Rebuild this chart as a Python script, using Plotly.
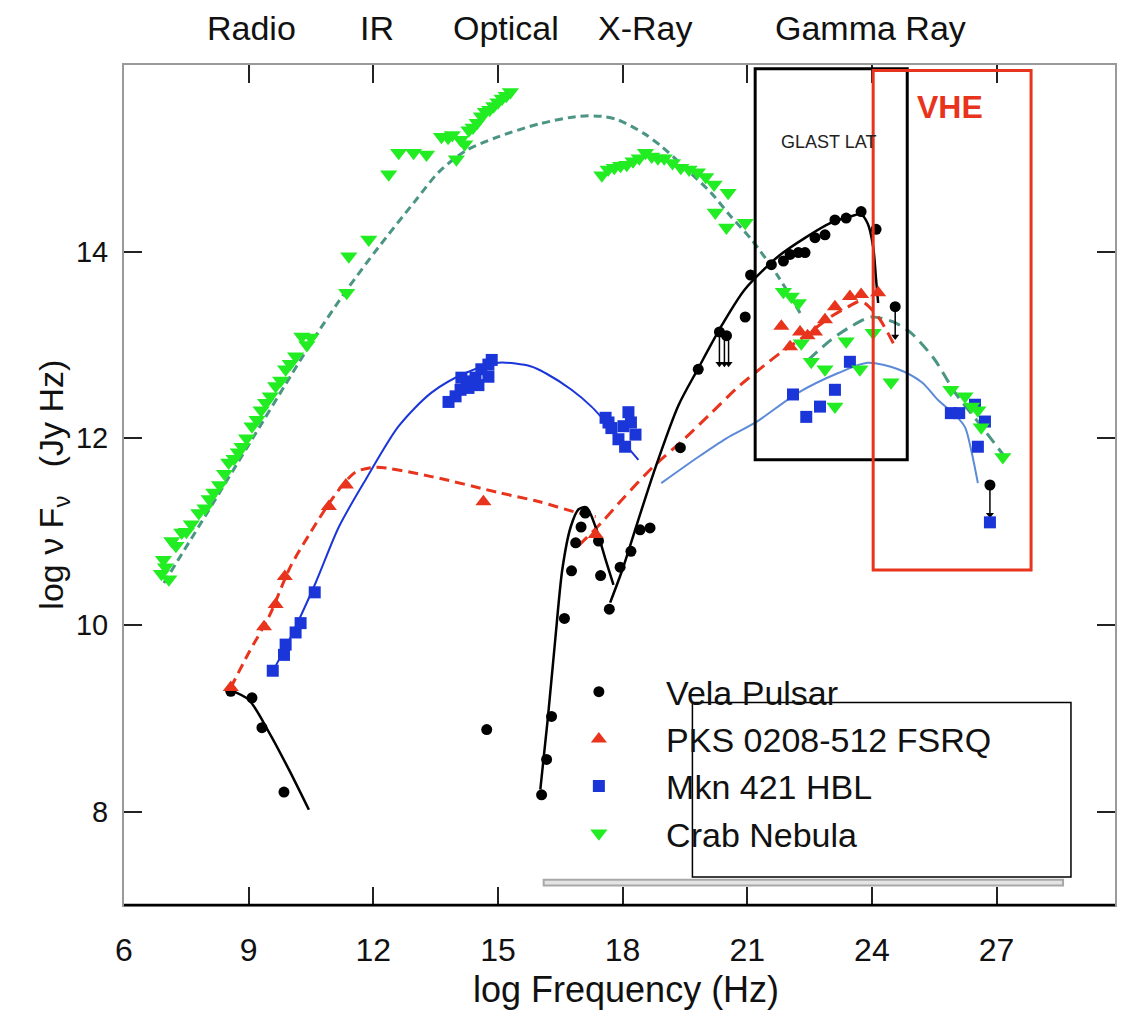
import plotly.graph_objects as go

# ---------------- data ----------------
# Crab Nebula (green, down triangles)
crab_x = [6.9, 6.95, 7.0, 7.08, 7.15, 7.25, 7.39, 7.5, 7.62, 7.8, 7.95, 8.05, 8.16, 8.3, 8.42, 8.52,
          8.65, 8.75, 8.84, 8.95, 9.08, 9.2, 9.3, 9.41, 9.52, 9.65, 9.77, 9.89, 10.0, 10.13, 10.28, 10.4, 10.5,
          11.36, 11.41, 11.89, 12.37, 12.61, 12.97, 13.28,
          13.64, 13.8, 13.9, 14.0, 14.1, 14.2, 14.3, 14.4, 14.5, 14.6, 14.7, 14.8, 14.9, 15.0, 15.1, 15.2, 15.3,
          17.5, 17.65, 17.8, 17.95, 18.1, 18.25, 18.4, 18.55, 18.7, 18.85, 19.0, 19.2, 19.4, 19.6, 19.8, 20.0, 20.2,
          20.54, 20.23, 20.5, 20.95,
          21.87, 22.06, 22.23, 22.3, 23.38, 22.54, 22.87, 23.71, 23.11, 24.03, 24.46,
          25.9, 26.24, 26.4, 26.55, 26.63, 27.15]
crab_y = [10.55, 10.7, 10.62, 10.49, 10.9, 10.85, 10.99, 11.0, 11.08, 11.2, 11.25, 11.35, 11.42, 11.5, 11.62, 11.74,
          11.78, 11.85, 11.91, 12.0, 12.13, 12.2, 12.3, 12.38, 12.45, 12.56, 12.62, 12.74, 12.8, 12.88, 13.09, 13.0, 13.08,
          13.56, 13.95, 14.13, 14.83, 15.06, 15.06, 15.04,
          15.23, 15.22, 15.25, 14.99, 15.2, 15.15, 15.3, 15.33, 15.38, 15.45, 15.5, 15.52, 15.56, 15.6, 15.64, 15.67, 15.71,
          14.82, 14.88, 14.9, 14.92, 14.93, 14.97, 15.0, 15.06, 15.02, 15.0, 15.0, 14.95, 14.9, 14.88, 14.85, 14.8, 14.72,
          14.63, 14.42, 14.26, 14.31,
          13.57, 13.52, 13.45, 13.02, 13.04, 12.82, 12.74, 12.74, 12.34, 13.13, 12.6,
          12.52, 12.45, 12.34, 12.3, 12.12, 11.8]
crab_sync_x = [6.96, 8.0, 9.0, 10.0, 10.6, 11.36, 12.13, 13.02, 13.57, 14.22, 15.0, 16.0, 16.94, 17.5, 17.9,
               18.5, 18.93, 19.5, 20.13, 20.6, 21.1, 21.75, 22.3]
crab_sync_y = [10.45, 11.2, 11.93, 12.66, 13.09, 13.59, 14.05, 14.55, 14.85, 15.08, 15.23, 15.37, 15.45, 15.45, 15.41,
               15.27, 15.13, 14.9, 14.63, 14.38, 14.13, 13.73, 13.32]
crab_ic_x = [22.47, 23.0, 23.5, 23.98, 24.5, 24.94, 25.5, 26.0, 26.6, 27.2]
crab_ic_y = [12.84, 13.05, 13.2, 13.3, 13.25, 13.13, 12.85, 12.49, 12.15, 11.8]

# Vela Pulsar (black circles)
vela_x = [8.57, 9.08, 9.32, 9.85, 14.73, 16.05, 16.17, 16.29, 16.6, 16.77, 16.87, 17.0, 17.1, 17.42, 17.47,
          17.68, 17.94, 18.2, 18.42, 18.66, 19.39, 19.82, 20.33, 20.5, 20.95, 21.08, 21.58, 21.87, 22.03, 22.23,
          22.39, 22.63, 22.87, 23.11, 23.38, 23.74, 24.1, 24.56, 26.84]
vela_y = [9.29, 9.22, 8.9, 8.21, 8.88, 8.18, 8.56, 9.02, 10.07, 10.58, 10.88, 11.05, 11.2, 10.9, 10.53,
          10.17, 10.62, 10.79, 11.02, 11.04, 11.9, 12.74, 13.14, 13.1, 13.3, 13.75, 13.86, 13.9, 13.97, 13.99,
          13.99, 14.15, 14.18, 14.34, 14.36, 14.43, 14.24, 13.41, 11.5]
vela_radio_x = [8.57, 9.0, 9.49, 9.97, 10.45]
vela_radio_y = [9.3, 9.2, 8.85, 8.45, 8.02]
vela_opt_x = [16.02, 16.2, 16.38, 16.55, 16.75, 16.94, 17.13, 17.35, 17.59, 17.78]
vela_opt_y = [8.24, 9.0, 9.85, 10.6, 11.05, 11.24, 11.26, 11.05, 10.7, 10.43]
vela_he_x = [17.7, 18.0, 18.38, 18.8, 19.34, 19.82, 20.4, 20.95, 21.75, 22.4, 23.02, 23.5, 23.74, 23.9,
             24.03, 24.1, 24.15]
vela_he_y = [10.24, 10.6, 11.13, 11.7, 12.35, 12.75, 13.22, 13.6, 13.95, 14.15, 14.31, 14.38, 14.4, 14.3,
             14.05, 13.7, 13.45]
# upper limits (arrow tops) and arrow length
vela_ul_x = [20.33, 20.45, 20.55, 24.56, 26.84]
vela_ul_y = [13.12, 13.12, 13.12, 13.41, 11.5]
ul_len = 0.32

# PKS 0208-512 FSRQ (red up triangles)
pks_x = [8.57, 9.37, 9.65, 9.87, 10.93, 11.34, 14.65, 17.35, 21.82, 22.03, 22.27, 22.45, 22.63, 22.87,
         23.11, 23.47, 23.74, 24.15]
pks_y = [9.33, 9.98, 10.22, 10.52, 11.27, 11.5, 11.32, 10.97, 13.2, 12.98, 13.14, 13.1, 13.14, 13.27,
         13.41, 13.52, 13.54, 13.56]
pks_sync_x = [8.57, 9.0, 9.5, 10.0, 10.5, 10.93, 11.3, 11.58, 12.06, 13.4, 15.01, 16.0, 16.94, 17.35]
pks_sync_y = [9.33, 9.7, 10.1, 10.62, 11.0, 11.3, 11.52, 11.64, 11.69, 11.59, 11.42, 11.32, 11.2, 11.16]
pks_ic_x = [16.94, 17.5, 18.0, 18.7, 19.5, 20.13, 20.78, 21.75, 22.4, 23.0, 23.43, 23.74, 24.15, 24.56]
pks_ic_y = [10.85, 11.1, 11.35, 11.68, 12.0, 12.27, 12.55, 12.9, 13.1, 13.3, 13.41, 13.47, 13.3, 12.98]

# Mkn 421 HBL (blue squares)
mkn_x = [9.58, 9.85, 9.89, 10.13, 10.25, 10.59,
         13.81, 13.98, 14.1, 14.25, 14.46, 14.6, 14.77, 14.85, 14.53, 14.77, 14.12, 14.29,
         17.59, 17.73, 17.9, 18.02, 18.14, 18.31, 17.66, 18.2, 18.06,
         22.1, 22.42, 22.75, 23.11, 23.47, 25.9, 26.1, 26.48, 26.72, 26.55, 26.84]
mkn_y = [9.51, 9.68, 9.79, 9.92, 10.02, 10.35,
         12.39, 12.45, 12.52, 12.61, 12.65, 12.74, 12.79, 12.84, 12.57, 12.66, 12.65, 12.54,
         12.22, 12.11, 11.99, 12.13, 12.28, 12.04, 12.17, 12.17, 11.91,
         12.47, 12.23, 12.34, 12.52, 12.82, 12.27, 12.27, 12.36, 12.18, 11.91, 11.1]
mkn_sync_x = [9.55, 10.0, 10.61, 11.17, 11.82, 12.61, 13.4, 14.22, 15.01, 15.8, 16.14, 16.77, 17.25, 17.8, 18.38]
mkn_sync_y = [9.48, 9.86, 10.45, 11.05, 11.56, 12.13, 12.49, 12.7, 12.81, 12.77, 12.7, 12.52, 12.34, 12.07, 11.77]
mkn_ic_x = [18.93, 19.82, 20.5, 21.2, 22.23, 23.19, 23.9, 24.63, 25.2, 25.59, 26.0, 26.24, 26.4, 26.55]
mkn_ic_y = [11.52, 11.8, 12.0, 12.17, 12.49, 12.7, 12.81, 12.74, 12.6, 12.41, 12.25, 12.12, 11.85, 11.52]

band_labels = ["Radio", "IR", "Optical", "X-Ray", "Gamma Ray"]
band_x = [9.08, 12.1, 15.2, 18.55, 23.96]

x_ticks = [6, 9, 12, 15, 18, 21, 24, 27]
y_ticks = [8, 10, 12, 14]

# ---------------- styles ----------------
GREEN = "#22ec22"
CRAB_LINE = "#4a9583"
RED = "#e8341c"
BLUE = "#1a35d8"
BLUE_IC = "#5c8ad8"
BLACK = "#000000"
FONT = "Liberation Sans, Arial, sans-serif"
NB = "\u00a0" * 5
SM = 0.8

fig = go.Figure()


def curve(x, y, color, width, dash=None):
    ln = dict(color=color, width=width, shape="spline", smoothing=SM)
    if dash:
        ln["dash"] = dash
    fig.add_trace(go.Scatter(x=x, y=y, mode="lines", line=ln, showlegend=False, hoverinfo="skip"))


# model curves
curve(crab_sync_x, crab_sync_y, CRAB_LINE, 3, "8px,5px")
curve(crab_ic_x, crab_ic_y, CRAB_LINE, 3, "12px,7px")
curve(pks_sync_x, pks_sync_y, RED, 3, "10px,6px")
curve(pks_ic_x, pks_ic_y, RED, 3, "12px,7px")
curve(mkn_sync_x, mkn_sync_y, BLUE, 2)
curve(mkn_ic_x, mkn_ic_y, BLUE_IC, 2)
curve(vela_radio_x, vela_radio_y, BLACK, 2.5)
curve(vela_opt_x, vela_opt_y, BLACK, 2.5)
curve(vela_he_x, vela_he_y, BLACK, 2.5)

# upper-limit arrows (stems + heads) built from the upper-limit arrays
stem_x, stem_y = [], []
for ux, uy in zip(vela_ul_x, vela_ul_y):
    stem_x += [ux, ux, None]
    stem_y += [uy, uy - ul_len, None]
fig.add_trace(go.Scatter(x=stem_x, y=stem_y, mode="lines", line=dict(color=BLACK, width=1.5),
                         showlegend=False, hoverinfo="skip"))
fig.add_trace(go.Scatter(x=vela_ul_x, y=[v - ul_len for v in vela_ul_y], mode="markers",
                         marker=dict(symbol="triangle-down", size=7, color=BLACK),
                         showlegend=False, hoverinfo="skip"))

# data points
fig.add_trace(go.Scatter(x=vela_x, y=vela_y, mode="markers", name=NB + "Vela Pulsar",
                         marker=dict(symbol="circle", size=11, color=BLACK)))
fig.add_trace(go.Scatter(x=pks_x, y=pks_y, mode="markers", name=NB + "PKS 0208-512 FSRQ",
                         marker=dict(symbol="triangle-up", size=14, color=RED)))
fig.add_trace(go.Scatter(x=mkn_x, y=mkn_y, mode="markers", name=NB + "Mkn 421 HBL",
                         marker=dict(symbol="square", size=12, color=BLUE)))
fig.add_trace(go.Scatter(x=crab_x, y=crab_y, mode="markers", name=NB + "Crab Nebula",
                         marker=dict(symbol="triangle-down", size=15, color=GREEN)))

annotations = []
for lbl, bx in zip(band_labels, band_x):
    annotations.append(dict(x=bx, y=1.044, xref="x", yref="paper", text=lbl, showarrow=False,
                            font=dict(family=FONT, size=34, color="#111"), xanchor="center", yanchor="middle"))
annotations.append(dict(x=22.95, y=15.18, xref="x", yref="y", text="GLAST LAT", showarrow=False,
                        font=dict(family=FONT, size=18, color="#222")))
annotations.append(dict(x=25.88, y=15.55, xref="x", yref="y", text="<b>VHE</b>", showarrow=False,
                        font=dict(family=FONT, size=32, color=RED)))
annotations.append(dict(x=-0.072, y=0.50, xref="paper", yref="paper", text="log ν F<sub>ν</sub>   (Jy Hz)",
                        showarrow=False, textangle=-90, font=dict(family=FONT, size=34, color="#111"),
                        xanchor="center", yanchor="middle"))
annotations.append(dict(x=0.507, y=-0.1, xref="paper", yref="paper", text="log Frequency (Hz)",
                        showarrow=False, font=dict(family=FONT, size=36, color="#111"),
                        xanchor="center", yanchor="middle"))

shapes = [
    dict(type="rect", xref="x", yref="y", x0=21.19, x1=24.85, y0=11.77, y1=15.96, line=dict(color=BLACK, width=3)),
    dict(type="rect", xref="x", yref="y", x0=24.03, x1=27.83, y0=10.59, y1=15.94, line=dict(color=RED, width=3)),
    dict(type="rect", xref="x", yref="y", x0=19.68, x1=28.79, y0=7.30, y1=9.17, line=dict(color=BLACK, width=1.5)),
    dict(type="rect", xref="x", yref="y", x0=16.1, x1=28.6, y0=7.21, y1=7.27, line=dict(color="#a8a8a8", width=2), fillcolor="#e4e4e4"),
    dict(type="line", xref="paper", yref="paper", x0=0, x1=1, y0=0, y1=0, line=dict(color=BLACK, width=2.5)),
]

fig.update_layout(
    width=1122, height=1010,
    margin=dict(l=124, r=5, t=65, b=105),
    paper_bgcolor="white", plot_bgcolor="white",
    font=dict(family=FONT, color="#111"),
    annotations=annotations, shapes=shapes,
    legend=dict(x=0.459, y=0.288, xanchor="left", yanchor="top", bgcolor="rgba(0,0,0,0)",
                font=dict(family=FONT, size=34, color="#111"), itemsizing="trace"),
    xaxis=dict(range=[6, 29.85], tickvals=x_ticks, ticks="inside", ticklen=18, tickwidth=1.5, tickcolor="#222",
               showline=True, linecolor="#9a9a9a", linewidth=2, mirror="ticks", showgrid=False, zeroline=False,
               tickfont=dict(family=FONT, size=32, color="#111"), ticklabelstandoff=16),
    yaxis=dict(range=[7, 16], tickvals=y_ticks, ticks="inside", ticklen=18, tickwidth=1.5, tickcolor="#222",
               showline=True, linecolor="#9a9a9a", linewidth=2, mirror="ticks", showgrid=False, zeroline=False,
               tickfont=dict(family=FONT, size=29, color="#111"), ticklabelstandoff=8),
)

fig.write_html("out.html")
